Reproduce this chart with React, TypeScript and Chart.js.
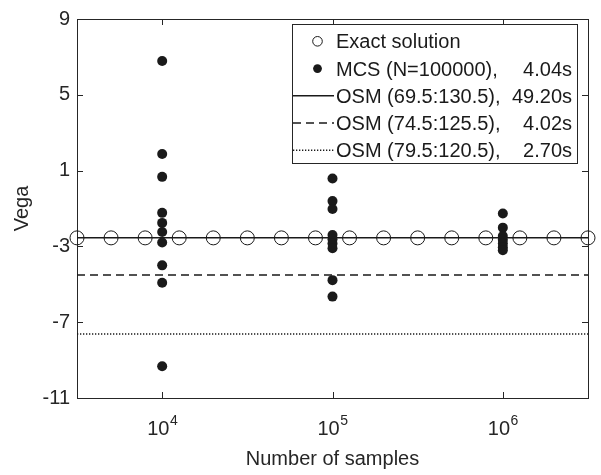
import React, { useEffect, useRef } from 'react';
import { Chart, registerables } from 'chart.js';

Chart.register(...registerables);

// ---------- data ----------
const xMin = 3162;
const xMax = 3162278;
const xTicks = [10000, 100000, 1000000];
const xTickExponents = ['4', '5', '6'];
const yTicks = [-11, -7, -3, 1, 5, 9];

const exactX = [3162, 5012, 7943, 12589, 19953, 31623, 50119, 79433, 125893, 199526, 316228, 501187, 794328, 1258925, 1995262, 3162278];
const exactY = [-2.55, -2.55, -2.55, -2.55, -2.55, -2.55, -2.55, -2.55, -2.55, -2.55, -2.55, -2.55, -2.55, -2.55, -2.55, -2.55];

const mcsX1 = 10000;
const mcsY1 = [6.78, 1.88, 0.67, -1.23, -1.76, -2.24, -2.79, -4.0, -4.92, -9.32];
const mcsX2 = 100000;
const mcsY2 = [0.58, -0.61, -1.03, -2.4, -2.62, -2.85, -3.1, -4.78, -5.65];
const mcsX3 = 1000000;
const mcsY3 = [-1.26, -2.01, -2.45, -2.65, -2.85, -3.05, -3.2];

const osmA = -2.55; // OSM (69.5:130.5)
const osmB = -4.51; // OSM (74.5:125.5)
const osmC = -7.62; // OSM (79.5:120.5)

const legendLabels = ['Exact solution', 'MCS (N=100000),', 'OSM (69.5:130.5),', 'OSM (74.5:125.5),', 'OSM (79.5:120.5),'];
const legendTimes = ['', '4.04s', '49.20s', '4.02s', '2.70s'];

const FONT = '"Liberation Sans", Arial, Helvetica, sans-serif';
const INK = '#1a1a1a';
const AXIS = '#262626';

const decorPlugin = {
  id: 'matlabDecor',
  beforeDraw(chart: any) {
    const { ctx, width, height } = chart;
    ctx.save();
    ctx.fillStyle = '#ffffff';
    ctx.fillRect(0, 0, width, height);
    ctx.restore();
  },
  beforeDatasetsDraw(chart: any) {
    const { ctx, chartArea } = chart;
    const { left, right, top, bottom } = chartArea;
    const xs = chart.scales.x;
    const ys = chart.scales.y;
    ctx.save();
    ctx.strokeStyle = AXIS;
    ctx.lineWidth = 1;
    ctx.strokeRect(Math.round(left) + 0.5, Math.round(top) + 0.5, Math.round(right - left), Math.round(bottom - top));
    const tl = 6;
    ctx.beginPath();
    for (const v of xTicks) {
      const px = Math.round(xs.getPixelForValue(v)) + 0.5;
      ctx.moveTo(px, bottom);
      ctx.lineTo(px, bottom - tl);
      ctx.moveTo(px, top);
      ctx.lineTo(px, top + tl);
    }
    for (const v of yTicks) {
      const py = Math.round(ys.getPixelForValue(v)) + 0.5;
      ctx.moveTo(left, py);
      ctx.lineTo(left + tl, py);
      ctx.moveTo(right, py);
      ctx.lineTo(right - tl, py);
    }
    ctx.stroke();

    // x tick labels 10^n
    ctx.fillStyle = AXIS;
    ctx.textBaseline = 'alphabetic';
    ctx.textAlign = 'left';
    xTicks.forEach((v, i) => {
      const px = xs.getPixelForValue(v);
      ctx.font = `20px ${FONT}`;
      const wBase = ctx.measureText('10').width;
      ctx.font = `14px ${FONT}`;
      const wExp = ctx.measureText(xTickExponents[i]).width;
      const start = px - (wBase + wExp) / 2;
      ctx.font = `20px ${FONT}`;
      ctx.fillText('10', start, 435);
      ctx.font = `14px ${FONT}`;
      ctx.fillText(xTickExponents[i], start + wBase + 0.5, 425);
    });

    // axis titles
    ctx.font = `20px ${FONT}`;
    ctx.textAlign = 'center';
    ctx.fillText('Number of samples', (left + right) / 2, 465);
    ctx.save();
    ctx.translate(27.5, (top + bottom) / 2);
    ctx.rotate(-Math.PI / 2);
    ctx.fillText('Vega', 0, 0);
    ctx.restore();
    ctx.restore();
  },
  afterDraw(chart: any) {
    const { ctx } = chart;
    const ds = chart.data.datasets;
    ctx.save();
    const bx = 292, by = 24, bw = 285, bh = 139;
    ctx.fillStyle = '#ffffff';
    ctx.fillRect(bx, by, bw, bh);
    ctx.strokeStyle = AXIS;
    ctx.lineWidth = 1;
    ctx.strokeRect(bx + 0.5, by + 0.5, bw, bh);
    const entries = [
      { kind: 'circle', d: ds[0] },
      { kind: 'dot', d: ds[1] },
      { kind: 'line', d: ds[4] },
      { kind: 'line', d: ds[5] },
      { kind: 'line', d: ds[6] },
    ];
    entries.forEach((e, i) => {
      const base = 48.3 + i * 27.25;
      const cy = base - 7;
      ctx.save();
      if (e.kind === 'circle') {
        ctx.beginPath();
        ctx.arc(317.5, cy, 4.8, 0, Math.PI * 2);
        ctx.strokeStyle = INK;
        ctx.lineWidth = 1;
        ctx.stroke();
      } else if (e.kind === 'dot') {
        ctx.beginPath();
        ctx.arc(317.5, cy, 4.4, 0, Math.PI * 2);
        ctx.fillStyle = INK;
        ctx.fill();
      } else {
        ctx.beginPath();
        ctx.setLineDash(e.d.borderDash || []);
        ctx.strokeStyle = INK;
        ctx.lineWidth = e.d.borderWidth;
        ctx.moveTo(293, cy);
        ctx.lineTo(334, cy);
        ctx.stroke();
      }
      ctx.restore();
      ctx.fillStyle = INK;
      ctx.font = `20px ${FONT}`;
      ctx.textBaseline = 'alphabetic';
      ctx.textAlign = 'left';
      ctx.fillText(legendLabels[i], 336, base);
      if (legendTimes[i]) {
        ctx.textAlign = 'right';
        ctx.fillText(legendTimes[i], 572, base);
      }
    });
    ctx.restore();
  },
};

export default function App() {
  const canvasRef = useRef<HTMLCanvasElement | null>(null);

  useEffect(() => {
    const canvas = canvasRef.current;
    if (!canvas) return;
    const mcsStyle = {
      showLine: false,
      pointRadius: 5,
      pointHoverRadius: 5,
      pointBackgroundColor: INK,
      pointBorderColor: INK,
      pointBorderWidth: 0,
      borderColor: INK,
      backgroundColor: INK,
    };
    const lineStyle = (dash: number[], width: number) => ({
      showLine: true,
      pointRadius: 0,
      borderColor: INK,
      backgroundColor: INK,
      borderWidth: width,
      borderDash: dash,
      fill: false,
    });
    const chart = new Chart(canvas, {
      type: 'scatter',
      data: {
        datasets: [
          {
            label: 'Exact solution',
            data: exactX.map((x, i) => ({ x, y: exactY[i] })),
            showLine: false,
            pointRadius: 7,
            pointHoverRadius: 7,
            pointBorderWidth: 1,
            pointBorderColor: INK,
            pointBackgroundColor: 'rgba(0,0,0,0)',
            borderColor: INK,
            backgroundColor: 'rgba(0,0,0,0)',
            clip: false,
            order: 3,
          } as any,
          { label: 'MCS', data: mcsY1.map((y) => ({ x: mcsX1, y })), ...mcsStyle, order: 1 } as any,
          { label: 'MCS2', data: mcsY2.map((y) => ({ x: mcsX2, y })), ...mcsStyle, order: 1 } as any,
          { label: 'MCS3', data: mcsY3.map((y) => ({ x: mcsX3, y })), ...mcsStyle, order: 1 } as any,
          { label: 'OSM A', data: [{ x: xMin, y: osmA }, { x: xMax, y: osmA }], ...lineStyle([], 1.5), order: 2 } as any,
          { label: 'OSM B', data: [{ x: xMin, y: osmB }, { x: xMax, y: osmB }], ...lineStyle([8, 5], 1.5), order: 2 } as any,
          { label: 'OSM C', data: [{ x: xMin, y: osmC }, { x: xMax, y: osmC }], ...lineStyle([1.3, 1.7], 1.5), order: 2 } as any,
        ],
      },
      options: {
        responsive: false,
        animation: false,
        devicePixelRatio: 1,
        layout: { padding: { left: 0, top: 13, right: 13, bottom: 0 } },
        plugins: {
          legend: { display: false },
          tooltip: { enabled: false },
          title: { display: false },
        },
        scales: {
          x: {
            type: 'logarithmic',
            min: xMin,
            max: xMax,
            grid: { display: false },
            border: { display: false },
            ticks: { display: false },
            afterBuildTicks: (scale: any) => {
              scale.ticks = xTicks.map((value) => ({ value }));
            },
            afterFit: (scale: any) => {
              scale.height = 77;
            },
          },
          y: {
            type: 'linear',
            min: -11,
            max: 9,
            grid: { display: false, drawTicks: false },
            border: { display: false },
            afterBuildTicks: (scale: any) => {
              scale.ticks = yTicks.map((value) => ({ value }));
            },
            ticks: {
              padding: 7,
              color: AXIS,
              font: { family: FONT, size: 20 },
              callback: (v: any) => String(v),
            },
            afterFit: (scale: any) => {
              scale.width = 77;
            },
          },
        },
      } as any,
      plugins: [decorPlugin],
    });
    return () => chart.destroy();
  }, []);

  return (
    <div style={{ position: 'fixed', left: 0, top: 0, width: 601, height: 475, background: '#fff' }}>
      <canvas ref={canvasRef} width={601} height={475} style={{ width: 601, height: 475, display: 'block' }} />
    </div>
  );
}
